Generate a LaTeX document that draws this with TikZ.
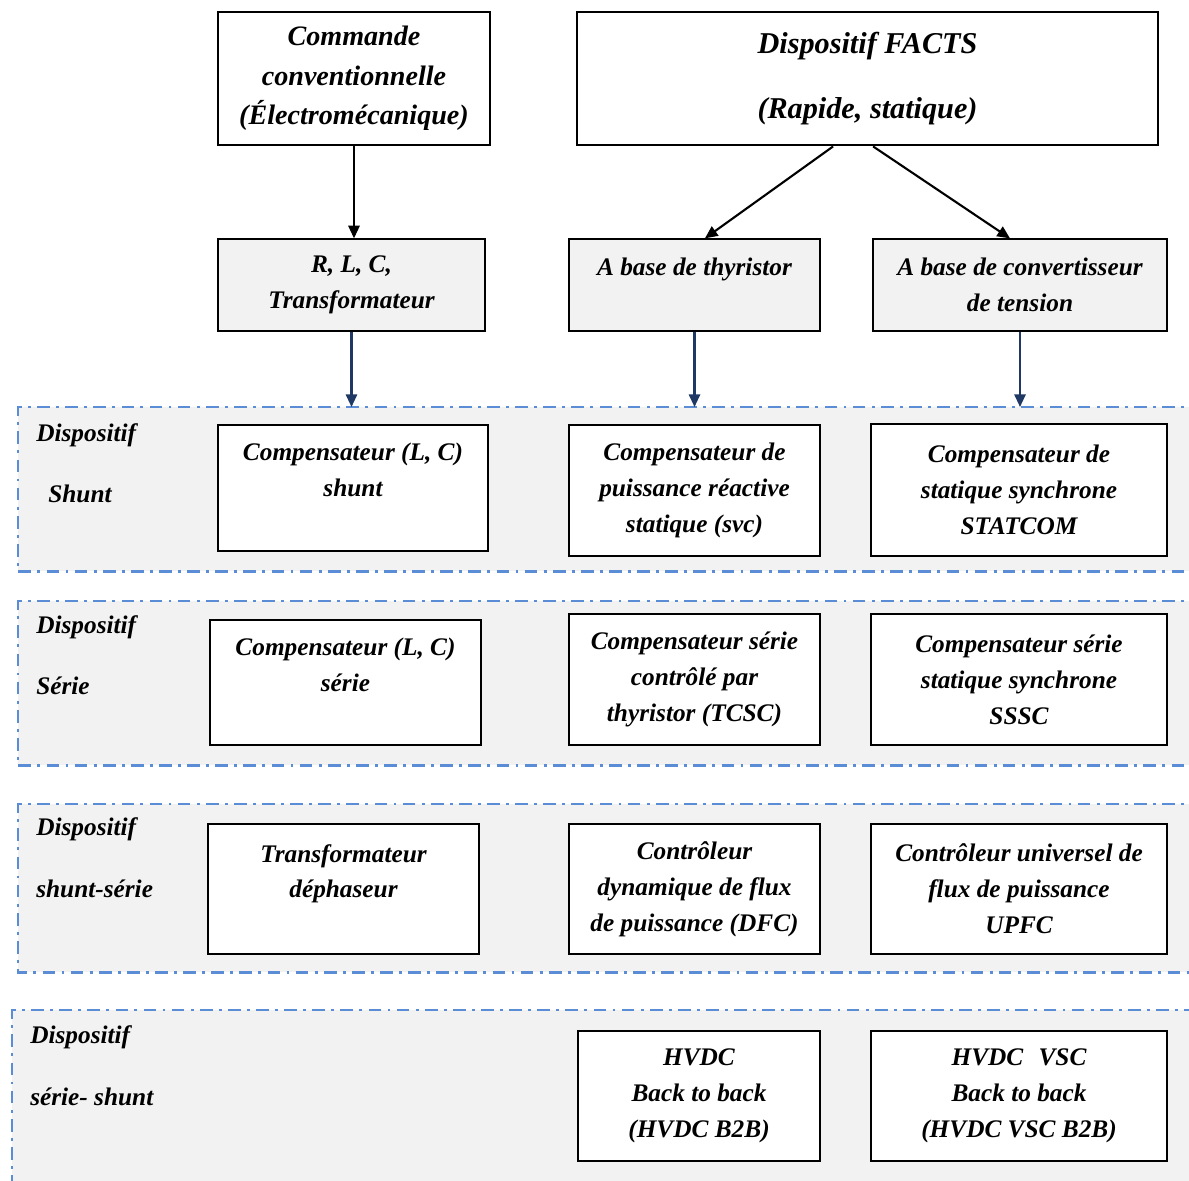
\documentclass[tikz,border=0pt]{standalone}
\usepackage{fontspec}
\setmainfont{Liberation Serif}
\usetikzlibrary{arrows.meta}

\definecolor{panelgray}{RGB}{242,242,242}
\definecolor{dashblue}{RGB}{91,141,214}
\definecolor{arrowblue}{RGB}{31,56,100}

\begin{document}
\begin{tikzpicture}[x=0.025cm, y=-0.025cm, >={Triangle[length=9pt,width=8pt]},
  every node/.style={font=\bfseries\itshape\fontsize{18}{25.5}\selectfont, align=center, inner sep=0pt},
  topbox/.style={draw, line width=2pt, fill=white},
  typebox/.style={draw, line width=0.9pt, fill=panelgray},
  devbox/.style={draw, line width=1pt, fill=white},
  panel/.style={fill=panelgray, anchor=north west, minimum width=29.6cm},
  panelline/.style={dashblue, line width=2pt, dash pattern=on 9pt off 4.5pt on 2pt off 4.5pt},
  grouplabel/.style={anchor=west}]

  \useasboundingbox (0,0) rectangle (1189,1180);
  \clip (0,0) rectangle (1189,1180);

  % Groups of devices (dash-dot panels)
  \node[panel, minimum height=4.1cm] (pshunt) at (18,407) {};
  \node[panel, minimum height=4.1cm] (pserie) at (18,601) {};
  \node[panel, minimum height=4.2cm] (pshser) at (18,804) {};
  \node[panel, minimum height=4.8cm] (psersh) at (12,1010) {};
  \foreach \p in {pshunt, pserie, pshser, psersh}
    \draw[panelline] (\p.north east) -- (\p.north west) -- (\p.south west) -- (\p.south east);

  % Group labels
  \node[grouplabel] (lshunt1) at (36,435) {Dispositif};
  \node[grouplabel] (lshunt2) at (48,494) {Shunt};
  \node[grouplabel] (lserie1) at (36,627) {Dispositif};
  \node[grouplabel] (lserie2) at (36,686) {Série};
  \node[grouplabel] (lshser1) at (36,829) {Dispositif};
  \node[grouplabel] (lshser2) at (36,889) {shunt-série};
  \node[grouplabel] (lsersh1) at (30,1037) {Dispositif};
  \node[grouplabel] (lsersh2) at (30,1097) {série- shunt};

  % Control families
  \node[topbox, minimum width=6.8cm, minimum height=3.325cm,
        font=\bfseries\itshape\fontsize{20}{28}\selectfont] (cmd) at (354,78.5)
        {Commande\\conventionnelle\\(Électromécanique)};
  \node[topbox, minimum width=14.525cm, minimum height=3.325cm,
        font=\bfseries\itshape\fontsize{21.5}{28}\selectfont] (facts) at (867.5,78.5)
        {Dispositif FACTS\\[18pt](Rapide, statique)};

  % Technologies
  \node[typebox, minimum width=6.675cm, minimum height=2.3cm] (rlc) at (351.5,285)
        {R, L, C,\\Transformateur};
  \node[typebox, minimum width=6.275cm, minimum height=2.3cm] (thy) at (694.5,285)
        {A base de thyristor\\\mbox{}};
  \node[typebox, minimum width=7.35cm, minimum height=2.3cm] (conv) at (1020,285)
        {A base de convertisseur\\de tension};

  \draw[->, line width=1.5pt] (cmd.south) -- (cmd.south |- rlc.north);
  \draw[->, line width=1.5pt] ([xshift=-0.86cm]facts.south) -- ([xshift=0.26cm]thy.north);
  \draw[->, line width=1.5pt] ([xshift=0.14cm]facts.south) -- ([xshift=-0.25cm]conv.north);

  \foreach \t in {rlc, thy, conv}
    \draw[->, arrowblue, line width=1.5pt] (\t.south) -- (\t.south |- pshunt.north);

  % Shunt devices
  \node[devbox, minimum width=6.75cm, minimum height=3.15cm] (shlc) at (353,488)
        {Compensateur (L, C)\\shunt\\\mbox{}};
  \node[devbox, minimum width=6.275cm, minimum height=3.275cm] (svc) at (694.5,490.5)
        {Compensateur de\\puissance réactive\\statique (svc)};
  \node[devbox, minimum width=7.4cm, minimum height=3.3cm] (statcom) at (1019,490)
        {Compensateur de\\statique synchrone\\STATCOM};

  % Series devices
  \node[devbox, minimum width=6.775cm, minimum height=3.125cm] (selc) at (345.5,682.5)
        {Compensateur (L, C)\\série\\\mbox{}};
  \node[devbox, minimum width=6.275cm, minimum height=3.275cm] (tcsc) at (694.5,679.5)
        {Compensateur série\\contrôlé par\\thyristor (TCSC)};
  \node[devbox, minimum width=7.4cm, minimum height=3.275cm] (sssc) at (1019,679.5)
        {Compensateur série\\statique synchrone\\SSSC};

  % Shunt-series devices
  \node[devbox, minimum width=6.775cm, minimum height=3.25cm] (dephas) at (343.5,889)
        {Transformateur\\déphaseur\\\mbox{}};
  \node[devbox, minimum width=6.275cm, minimum height=3.25cm] (dfc) at (694.5,889)
        {Contrôleur\\dynamique de flux\\de puissance (DFC)};
  \node[devbox, minimum width=7.4cm, minimum height=3.25cm] (upfc) at (1019,889)
        {Contrôleur universel de\\flux de puissance\\UPFC};

  % Series-shunt devices
  \node[devbox, minimum width=6.05cm, minimum height=3.25cm] (b2b) at (699,1096)
        {HVDC\\Back to back\\(HVDC B2B)};
  \node[devbox, minimum width=7.4cm, minimum height=3.25cm] (vscb2b) at (1019,1096)
        {HVDC\hspace{0.6em}VSC\\Back to back\\(HVDC VSC B2B)};

\end{tikzpicture}
\end{document}
